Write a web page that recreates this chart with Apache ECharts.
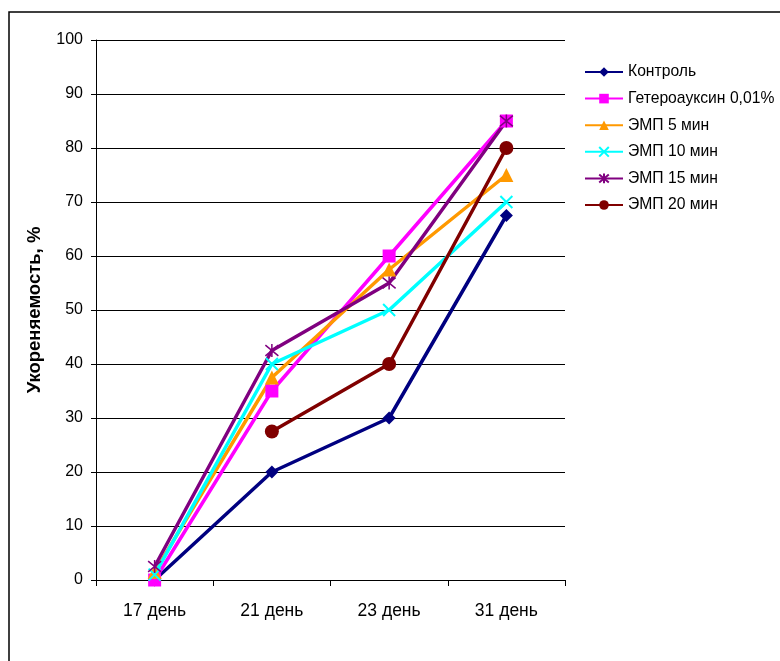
<!DOCTYPE html>
<html><head><meta charset="utf-8">
<script src="https://cdn.jsdelivr.net/npm/echarts@6/dist/echarts.min.js"></script>
<style>html,body{margin:0;padding:0;background:#fff}#c{width:780px;height:661px}</style>
</head><body><div id="c"></div>
<script>
const categories = ['17 день', '21 день', '23 день', '31 день'];
const kontrol = [0, 20, 30, 67.5];
const geteroauksin = [0, 35, 60, 85];
const emp5 = [1.5, 37.5, 57.5, 75];
const emp10 = [1, 40, 50, 70];
const emp15 = [2.5, 42.5, 55, 85];
const emp20 = [null, 27.5, 40, 80];
const yTicks = { min: 0, max: 100, interval: 10 };

const xPath = 'path://M0,0L10,10M10,0L0,10';
const starPath = 'path://M0,0L10,10M10,0L0,10M5,-1L5,11';

function s(name, data, color, symbol, size, extra) {
  return Object.assign({
    name, type: 'line', data, symbol, symbolSize: size,
    lineStyle: { color, width: 3.5 },
    itemStyle: { color, borderColor: color, borderWidth: 0 },
    connectNulls: false, z: 3
  }, extra || {});
}

const series = [
  s('Контроль', kontrol, '#000080', 'diamond', 13),
  s('Гетероауксин 0,01%', geteroauksin, '#ff00ff', 'rect', 13),
  s('ЭМП 5 мин', emp5, '#ff9900', 'triangle', 14),
  s('ЭМП 10 мин', emp10, '#00ffff', xPath, 12, { itemStyle: { color: '#00ffff', borderColor: '#00ffff', borderWidth: 2 } }),
  s('ЭМП 15 мин', emp15, '#800080', starPath, 13, { itemStyle: { color: '#800080', borderColor: '#800080', borderWidth: 1.5 } }),
  s('ЭМП 20 мин', emp20, '#800000', 'circle', 14)
];

const chart = echarts.init(document.getElementById('c'), null, { renderer: 'canvas' });
chart.setOption({
  animation: false,
  backgroundColor: '#fff',
  textStyle: { fontFamily: 'Liberation Sans, Arial, sans-serif' },
  graphic: [{ type: 'rect', shape: { x: 9, y: 12, width: 800, height: 700 }, style: { fill: 'none', stroke: '#000', lineWidth: 1.5 }, silent: true }],
  grid: { left: 96, top: 40, width: 469, height: 540, containLabel: false },
  legend: {
    orient: 'vertical', left: 579, top: 59, itemWidth: 38, itemHeight: 12, itemGap: 10.6,
    textStyle: { fontSize: 15.7, color: '#000', fontFamily: 'Liberation Sans, Arial, sans-serif', padding: [0, 0, 0, 0] },
    data: series.map(x => x.name)
  },
  xAxis: {
    type: 'category', data: categories, boundaryGap: true,
    axisLine: { lineStyle: { color: '#000', width: 1 } },
    axisTick: { show: true, length: 6, lineStyle: { color: '#000' } },
    axisLabel: { color: '#000', fontSize: 17.5, margin: 22 }
  },
  yAxis: {
    type: 'value', min: yTicks.min, max: yTicks.max, interval: yTicks.interval,
    name: 'Укореняемость, %', nameLocation: 'middle', nameGap: 52,
    nameTextStyle: { fontWeight: 'bold', fontSize: 18.5, color: '#000' },
    axisLine: { show: true, lineStyle: { color: '#000', width: 1 } },
    axisTick: { show: true, length: 5, lineStyle: { color: '#000' } },
    axisLabel: { color: '#000', fontSize: 16, margin: 13 },
    splitLine: { show: true, lineStyle: { color: '#000', width: 1 } }
  },
  series
});
</script></body></html>
